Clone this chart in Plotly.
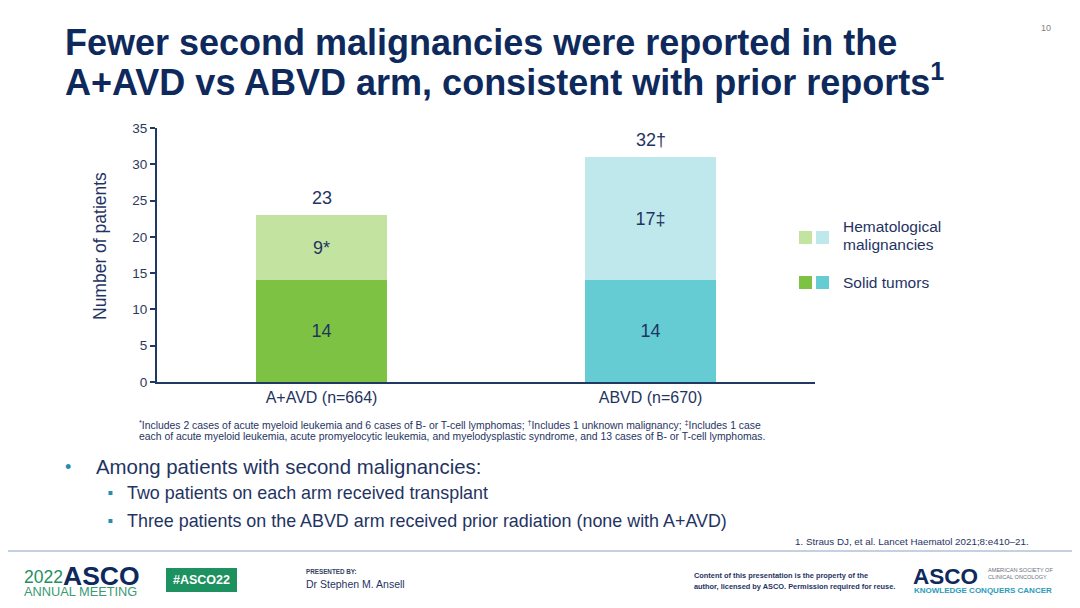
import plotly.graph_objects as go

# ---------------- data ----------------
arms = ["A+AVD (n=664)", "ABVD (n=670)"]
solid_tumors = [14, 14]
hematological = [9, 17]
solid_labels = ["14", "14"]
heme_labels = ["9*", "17‡"]
total_labels = ["23", "32†"]

solid_colors = ["#7DC242", "#66CCD3"]
heme_colors = ["#C3E3A0", "#BFE8EC"]

NAVY = "#0E2A5C"
TEXT = "#1F3463"
BUL = "#2A8AB0"
FONT = "Liberation Sans, Arial, sans-serif"

# page body has an 8px margin, so the figure is offset by OFF
OFF = 8
W, H = 1080 - OFF, 608 - 2 * OFF
L = 157 - OFF
T = 128 - OFF
R = W - (815 - OFF)
B = H - (382 - OFF)
PW, PH = W - L - R, H - T - B


def px(x):
    return (x - OFF - L) / PW


def py(y):
    return (H - B - (y - OFF)) / PH


fig = go.Figure()
fig.add_trace(go.Bar(
    x=arms, y=solid_tumors, name="Solid tumors",
    marker=dict(color=solid_colors, line=dict(width=0)),
    text=solid_labels, textposition="inside", insidetextanchor="middle",
    textfont=dict(size=18, color=TEXT, family=FONT), textangle=0,
    width=0.4, showlegend=False, hoverinfo="skip",
))
fig.add_trace(go.Bar(
    x=arms, y=hematological, name="Hematological malignancies",
    marker=dict(color=heme_colors, line=dict(width=0)),
    text=heme_labels, textposition="inside", insidetextanchor="middle",
    textfont=dict(size=18, color=TEXT, family=FONT), textangle=0,
    width=0.4, showlegend=False, hoverinfo="skip",
))

annotations = []
for arm, s, h, lab in zip(arms, solid_tumors, hematological, total_labels):
    annotations.append(dict(x=arm, y=s + h, xref="x", yref="y", text=lab,
                            showarrow=False, yanchor="bottom", yshift=5,
                            font=dict(size=18, color=TEXT, family=FONT)))


def txt(x, y, text, size, color=TEXT, anchor="left", bold=False, angle=0):
    if bold:
        text = "<b>" + text + "</b>"
    annotations.append(dict(x=px(x), y=py(y), xref="paper", yref="paper",
                            text=text, showarrow=False, xanchor=anchor,
                            yanchor="middle", textangle=angle,
                            font=dict(size=size, color=color, family=FONT)))


shapes = []


def rect(x0, y0, x1, y1, color):
    shapes.append(dict(type="rect", xref="paper", yref="paper",
                       x0=px(x0), x1=px(x1), y0=py(y1), y1=py(y0),
                       fillcolor=color, line=dict(width=0)))


# title
txt(63, 43, "Fewer second malignancies were reported in the", 36, NAVY, bold=True)
txt(63, 80, "A+AVD vs ABVD arm, consistent with prior reports<sup>1</sup>", 36, NAVY, bold=True)
txt(1046, 28, "10", 9, "#7F7F7F", anchor="center")

# y-axis title
txt(100, 246, "Number of patients", 17.5, TEXT, anchor="center", angle=-90)

# legend
rect(799, 231, 812, 244, heme_colors[0])
rect(816, 231, 829, 244, heme_colors[1])
rect(799, 276, 812, 289, solid_colors[0])
rect(816, 276, 829, 289, solid_colors[1])
txt(841, 226, "Hematological", 15.5)
txt(841, 244, "malignancies", 15.5)
txt(841, 282, "Solid tumors", 15.5)

# footnote
txt(137, 424, "<sup>*</sup>Includes 2 cases of acute myeloid leukemia and 6 cases of B- or T-cell lymphomas; "
    "<sup>†</sup>Includes 1 unknown malignancy; <sup>‡</sup>Includes 1 case", 10.4)
txt(137, 436, "each of acute myeloid leukemia, acute promyelocytic leukemia, and myelodysplastic syndrome, "
    "and 13 cases of B- or T-cell lymphomas.", 10.4)

# bullets
txt(68, 467, "•", 18, BUL, anchor="center")
txt(94, 467, "Among patients with second malignancies:", 20.4)
rect(108.5, 491, 112.5, 495, BUL)
txt(125, 493, "Two patients on each arm received transplant", 17.9)
rect(108.5, 519, 112.5, 523, BUL)
txt(125, 521, "Three patients on the ABVD arm received prior radiation (none with A+AVD)", 17.9)
txt(1031, 541, "1. Straus DJ, et al. Lancet Haematol 2021;8:e410–21.", 9.8, TEXT, anchor="right")

# divider
shapes.append(dict(type="line", xref="paper", yref="paper", x0=px(0), x1=px(1080),
                   y0=py(551), y1=py(551), line=dict(color="#C5D0E2", width=2)))

# footer
txt(22, 577, "2022", 17.5, "#23905E")
txt(61, 576, "ASCO", 26.5, NAVY, bold=True)
txt(22, 591, "ANNUAL MEETING", 12.8, "#3A9A72")
rect(166, 568, 237, 592, "#1E9160")
txt(201.5, 580, "#ASCO22", 12.5, "white", anchor="center", bold=True)
txt(304, 571, "PRESENTED BY:", 6.3, "#333F5F", bold=True)
txt(304, 584, "Dr Stephen M. Ansell", 10.5, TEXT)
txt(692, 575, "Content of this presentation is the property of the", 7.4, TEXT, bold=True)
txt(692, 586, "author, licensed by ASCO. Permission required for reuse.", 7.4, TEXT, bold=True)
txt(911, 576, "ASCO", 22.5, NAVY, bold=True)
txt(986, 570, "AMERICAN SOCIETY OF", 5.6, "#6B7080")
txt(986, 577, "CLINICAL ONCOLOGY", 5.6, "#6B7080")
txt(912, 590, "KNOWLEDGE CONQUERS CANCER", 8.0, "#2B9CBA", bold=True)

fig.update_layout(
    width=W, height=H,
    margin=dict(l=L, r=R, t=T, b=B, pad=0),
    paper_bgcolor="white", plot_bgcolor="white",
    barmode="stack",
    font=dict(family=FONT, color=TEXT),
    annotations=annotations, shapes=shapes,
    uniformtext=dict(minsize=8, mode="show"),
    xaxis=dict(type="category", range=[-0.5, 1.5], showline=True,
               linecolor="#1F3864", linewidth=2, ticks="", showgrid=False,
               tickfont=dict(size=16, color=TEXT, family=FONT), fixedrange=True),
    yaxis=dict(range=[0, 35], dtick=5, showline=True, linecolor="#1F3864",
               linewidth=2, ticks="outside", ticklen=5, tickcolor="#1F3864",
               tickwidth=1.5, showgrid=False, zeroline=False,
               tickfont=dict(size=13.5, color="#2B3A5C", family=FONT),
               fixedrange=True),
    showlegend=False,
)

fig.write_html("out.html")
